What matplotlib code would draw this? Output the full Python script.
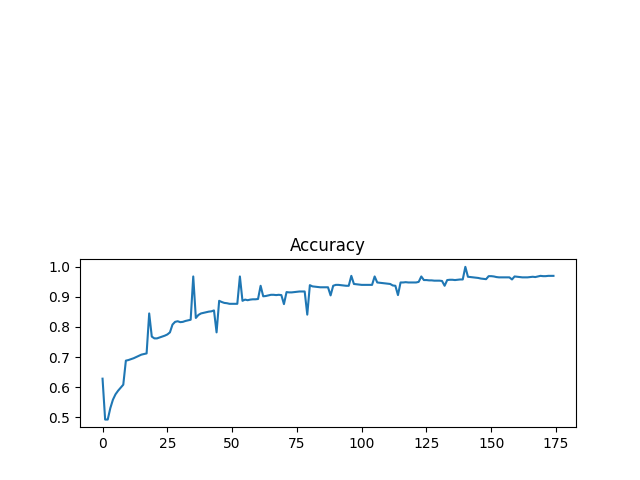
import matplotlib
matplotlib.use('Agg')
import matplotlib.pyplot as plt

# accuracy per epoch
acc_0_34 = [0.628, 0.492, 0.492, 0.530, 0.558, 0.576, 0.588, 0.598, 0.608, 0.688,
            0.690, 0.693, 0.696, 0.700, 0.704, 0.708, 0.710, 0.712, 0.845, 0.768,
            0.762, 0.762, 0.765, 0.768, 0.771, 0.775, 0.782, 0.808, 0.817, 0.819,
            0.816, 0.817, 0.820, 0.822, 0.824]
acc_35_69 = [0.968, 0.830, 0.840, 0.845, 0.847, 0.849, 0.851, 0.852, 0.855, 0.782,
             0.887, 0.883, 0.880, 0.879, 0.877, 0.877, 0.877, 0.877, 0.968, 0.887,
             0.891, 0.889, 0.891, 0.892, 0.892, 0.893, 0.937, 0.902, 0.903, 0.905,
             0.907, 0.907, 0.906, 0.907, 0.906]
acc_70_104 = [0.876, 0.916, 0.915, 0.915, 0.916, 0.917, 0.918, 0.918, 0.918, 0.841,
              0.939, 0.935, 0.934, 0.933, 0.932, 0.932, 0.932, 0.932, 0.905, 0.937,
              0.940, 0.940, 0.939, 0.938, 0.937, 0.937, 0.970, 0.943, 0.942, 0.941,
              0.940, 0.940, 0.940, 0.940, 0.940]
acc_105_139 = [0.968, 0.948, 0.947, 0.946, 0.945, 0.944, 0.943, 0.938, 0.937, 0.906,
               0.948, 0.948, 0.949, 0.948, 0.948, 0.948, 0.948, 0.950, 0.968, 0.956,
               0.956, 0.955, 0.955, 0.954, 0.954, 0.954, 0.953, 0.937, 0.956, 0.957,
               0.957, 0.956, 0.957, 0.958, 0.958]
acc_140_174 = [1.000, 0.967, 0.966, 0.965, 0.964, 0.963, 0.961, 0.960, 0.959, 0.969,
               0.969, 0.968, 0.966, 0.965, 0.965, 0.965, 0.965, 0.965, 0.958, 0.968,
               0.967, 0.966, 0.965, 0.965, 0.965, 0.966, 0.967, 0.966, 0.968, 0.970,
               0.969, 0.969, 0.970, 0.970, 0.970]

accuracy = acc_0_34 + acc_35_69 + acc_70_104 + acc_105_139 + acc_140_174

fig = plt.figure(figsize=(6.4, 4.8), dpi=100)
plt.subplot(2, 1, 2)
plt.plot(accuracy)
plt.title('Accuracy')
plt.savefig('out.png')
